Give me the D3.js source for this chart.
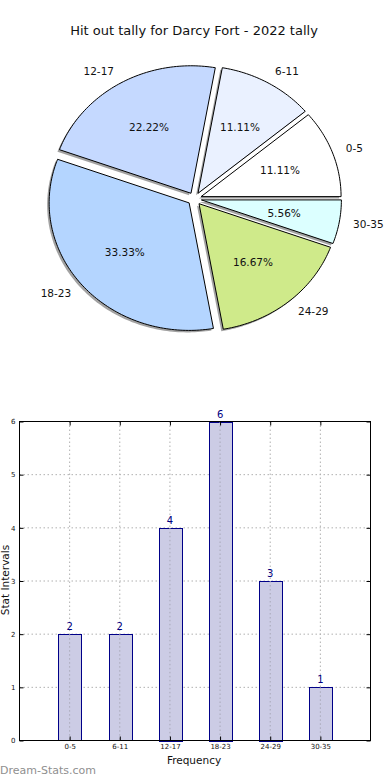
<!DOCTYPE html>
<html>
<head>
<meta charset="utf-8">
<script src="https://cdn.jsdelivr.net/npm/d3@7"></script>
<style>
  html, body { margin: 0; padding: 0; background: #fff; }
  svg { display: block; font-family: "DejaVu Sans", sans-serif; }
</style>
</head>
<body>
<svg id="chart" width="390" height="780"></svg>
<script>
const categories = ["0-5", "6-11", "12-17", "18-23", "24-29", "30-35"];
const values = [2, 2, 4, 6, 3, 1];
const sliceColors = ["#ffffff", "#eaf1ff", "#c5d9ff", "#b4d5ff", "#cfea8a", "#dcffff"];
const yTicks = [0, 1, 2, 3, 4, 5, 6];
const titleText = "Hit out tally for Darcy Fort - 2022 tally";

const svg = d3.select("#chart");

svg.append("text").attr("x", 194).attr("y", 35).attr("text-anchor", "middle")
  .attr("font-size", 13).attr("fill", "#111").text(titleText);

// ---- Pie (elliptical, matplotlib-like, counterclockwise from east) ----
const cx = 194.5, cy = 198.8, rx = 140, ry = 127.5, explode = 0.05;
const total = d3.sum(values);
const pie = d3.pie().sort(null).startAngle(0).endAngle(2 * Math.PI);
const arcs = pie(values);
const pt = (th, r, ox, oy) => [cx + ox + r * rx * Math.cos(th), cy + oy - r * ry * Math.sin(th)];
const line = d3.line();

function slicePath(a, ox, oy) {
  const pts = [pt(0, 0, ox, oy)];
  const n = Math.max(8, Math.ceil((a.endAngle - a.startAngle) / 0.02));
  for (let i = 0; i <= n; i++) {
    const th = a.startAngle + (a.endAngle - a.startAngle) * i / n;
    pts.push(pt(th, 1, ox, oy));
  }
  return line(pts) + "Z";
}

const pieG = svg.append("g");
arcs.forEach((a, i) => {
  const mid = (a.startAngle + a.endAngle) / 2;
  const ox = explode * rx * Math.cos(mid), oy = -explode * ry * Math.sin(mid);
  pieG.append("path").attr("d", slicePath(a, ox - 2, oy + 2))
    .attr("fill", "#555").attr("opacity", 0.55).attr("stroke", "none");
});
arcs.forEach((a, i) => {
  const mid = (a.startAngle + a.endAngle) / 2;
  const ox = explode * rx * Math.cos(mid), oy = -explode * ry * Math.sin(mid);
  pieG.append("path").attr("d", slicePath(a, ox, oy))
    .attr("fill", sliceColors[i]).attr("stroke", "#000").attr("stroke-width", 1)
    .attr("stroke-linejoin", "round");
});
arcs.forEach((a, i) => {
  const mid = (a.startAngle + a.endAngle) / 2;
  const ox = explode * rx * Math.cos(mid), oy = -explode * ry * Math.sin(mid);
  const lp = pt(mid, 1.1, ox, oy);
  pieG.append("text").attr("x", lp[0]).attr("y", lp[1]).attr("dy", "0.35em")
    .attr("text-anchor", Math.cos(mid) >= 0 ? "start" : "end")
    .attr("font-size", 10.5).attr("fill", "#111").text(categories[i]);
  const pp = pt(mid, 0.6, ox, oy);
  pieG.append("text").attr("x", pp[0]).attr("y", pp[1]).attr("dy", "0.35em")
    .attr("text-anchor", "middle").attr("font-size", 10.5).attr("fill", "#111")
    .text((values[i] / total * 100).toFixed(2) + "%");
});

// ---- Bar chart ----
const pL = 19.5, pR = 370.5, pT = 421.5, pB = 740.5;
const x = d3.scaleLinear().domain([-1, categories.length]).range([pL, pR]);
const y = d3.scaleLinear().domain([0, 6]).range([pB, pT]);
const barW = 0.45;
const g = svg.append("g");

categories.forEach((c, i) => {
  g.append("line").attr("x1", x(i)).attr("x2", x(i)).attr("y1", pT).attr("y2", pB)
    .attr("stroke", "#b0b0b0").attr("stroke-dasharray", "1.5,2.5").attr("stroke-width", 1);
});
yTicks.forEach(t => {
  g.append("line").attr("x1", pL).attr("x2", pR).attr("y1", y(t)).attr("y2", y(t))
    .attr("stroke", "#b0b0b0").attr("stroke-dasharray", "1.5,2.5").attr("stroke-width", 1);
});

values.forEach((v, i) => {
  const x0 = x(i - barW / 2), x1 = x(i + barW / 2);
  g.append("rect").attr("x", Math.round(x0) + 0.5).attr("y", Math.round(y(v)) + 0.5)
    .attr("width", Math.round(x1 - x0)).attr("height", Math.round(y(0) - y(v)))
    .attr("fill", "#ccccE5").attr("stroke", "#000088").attr("stroke-width", 1);
});
categories.forEach((c, i) => {
  g.append("line").attr("x1", x(i)).attr("x2", x(i)).attr("y1", y(values[i])).attr("y2", pB)
    .attr("stroke", "#a8a8b8").attr("stroke-dasharray", "1.5,2.5").attr("stroke-width", 1);
});
values.forEach((v, i) => {
  g.append("text").attr("x", x(i)).attr("y", y(v) - 4).attr("text-anchor", "middle")
    .attr("font-size", 10).attr("fill", "#000080").text(v);
});

g.append("rect").attr("x", pL).attr("y", pT).attr("width", pR - pL).attr("height", pB - pT)
  .attr("fill", "none").attr("stroke", "#000").attr("stroke-width", 1);

const yAxis = d3.axisLeft(y).tickValues(yTicks).tickSize(-4).tickPadding(4).tickFormat(d3.format("d"));
svg.append("g").attr("transform", `translate(${pL},0)`).call(yAxis);
const yAxisR = d3.axisRight(y).tickValues(yTicks).tickSize(-4).tickFormat("");
svg.append("g").attr("transform", `translate(${pR},0)`).call(yAxisR);
const xAxis = d3.axisBottom(x).tickValues(d3.range(categories.length)).tickSize(-4).tickPadding(4)
  .tickFormat(i => categories[i]);
svg.append("g").attr("transform", `translate(0,${pB})`).call(xAxis);
const xAxisT = d3.axisTop(x).tickValues(d3.range(categories.length)).tickSize(-4).tickFormat("");
svg.append("g").attr("transform", `translate(0,${pT})`).call(xAxisT);
svg.selectAll(".domain").remove();
svg.selectAll(".tick text").attr("font-family", "DejaVu Sans, sans-serif").attr("font-size", 7).attr("fill", "#111");
svg.selectAll(".tick line").attr("stroke", "#000");

svg.append("text").attr("x", 194).attr("y", 764).attr("text-anchor", "middle")
  .attr("font-size", 10.5).attr("fill", "#111").text("Frequency");
svg.append("text").attr("transform", "translate(5.5,580) rotate(-90)").attr("text-anchor", "middle")
  .attr("dy", "0.35em").attr("font-size", 10.5).attr("fill", "#111").text("Stat Intervals");

svg.append("text").attr("x", 0).attr("y", 774).attr("font-size", 11)
  .attr("fill", "#8f8f8f").text("Dream-Stats.com");
</script>
</body>
</html>
